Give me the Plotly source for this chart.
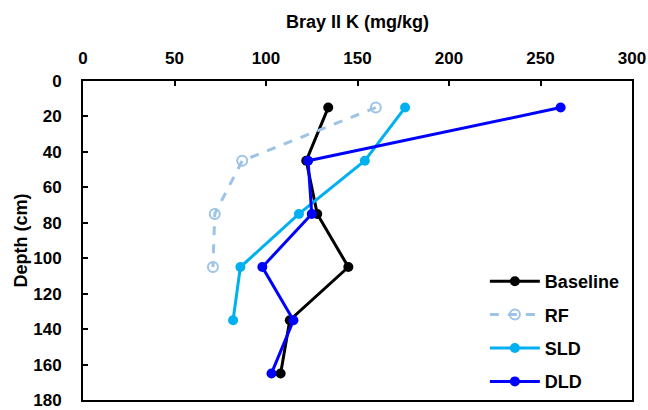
import plotly.graph_objects as go

depth = [15, 45, 75, 105, 135, 165]
depth_rf = [15, 45, 75, 105]
baseline = [134, 122, 128, 145, 113, 108]
rf = [160, 87, 72, 71]
sld = [176, 154, 118, 86, 82]
dld = [261, 123, 125, 98, 115, 103]
x_ticks = [0, 50, 100, 150, 200, 250, 300]
y_ticks = [0, 20, 40, 60, 80, 100, 120, 140, 160, 180]

fig = go.Figure()
fig.add_trace(go.Scatter(x=baseline, y=depth, name="<b>Baseline</b>", mode="lines+markers",
                         line=dict(color="#000000", width=3), marker=dict(size=10, color="#000000"),
                         legendgroup="a"))
fig.add_trace(go.Scatter(x=rf, y=depth_rf, name="<b>RF</b>", mode="lines+markers",
                         line=dict(color="#9DC3E6", width=3, dash="dash"),
                         marker=dict(size=10, symbol="circle-open", color="#9DC3E6", line=dict(width=2)),
                         legendgroup="b"))
fig.add_trace(go.Scatter(x=sld, y=depth[:5], name="<b>SLD</b>", mode="lines+markers",
                         line=dict(color="#00B0F0", width=3), marker=dict(size=10, color="#00B0F0"),
                         legendgroup="c"))
fig.add_trace(go.Scatter(x=dld, y=depth, name="<b>DLD</b>", mode="lines+markers",
                         line=dict(color="#0000FF", width=3), marker=dict(size=10, color="#0000FF"),
                         legendgroup="d"))

font_family = "Liberation Sans, Arial, sans-serif"
fig.update_layout(
    width=648, height=410,
    margin=dict(l=83, r=16, t=81, b=10),
    paper_bgcolor="white", plot_bgcolor="white",
    font=dict(family=font_family, color="#000000", size=17),
    showlegend=True,
    legend=dict(x=0.732, y=0.0, xanchor="left", yanchor="bottom",
                bgcolor="rgba(0,0,0,0)", font=dict(size=18, family=font_family),
                tracegroupgap=7, itemwidth=50),
    xaxis=dict(side="top", range=[0, 300], tickvals=x_ticks,
               ticktext=[f"<b>{v}</b>" for v in x_ticks],
               ticks="inside", ticklen=5, tickcolor="#000000", tickwidth=1.5,
               ticklabelstandoff=8, ticklabeloverflow="allow",
               showline=True, linecolor="#000000", linewidth=2, mirror=True,
               showgrid=False, zeroline=False, automargin=False,
               title=dict(text="<b>Bray II K (mg/kg)</b>", font=dict(size=18), standoff=16),
               tickfont=dict(size=17)),
    yaxis=dict(range=[180, 0], tickvals=y_ticks,
               ticktext=[f"<b>{v}</b>" for v in y_ticks],
               ticks="inside", ticklen=5, tickcolor="#000000", tickwidth=1.5,
               ticklabelstandoff=16, ticklabeloverflow="allow",
               showline=True, linecolor="#000000", linewidth=2, mirror=True,
               showgrid=False, zeroline=False, automargin=False,
               title=dict(text="<b>Depth (cm)</b>", font=dict(size=18), standoff=1),
               tickfont=dict(size=17)),
)

fig.write_html("out.html", config={"displayModeBar": False},
               post_script="document.body.style.margin='0';document.body.style.overflow='hidden';")
